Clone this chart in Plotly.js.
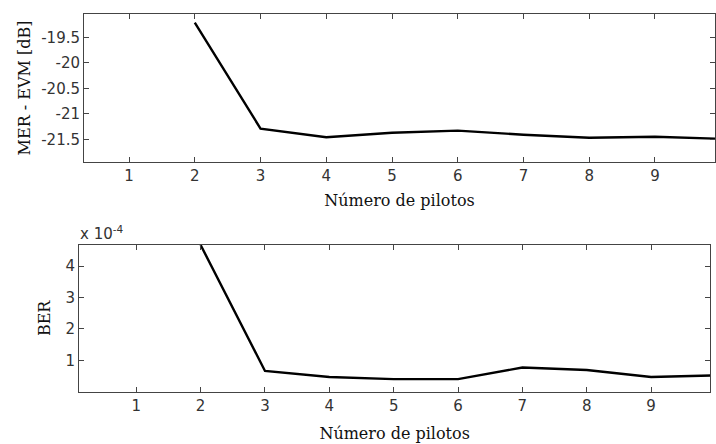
<!DOCTYPE html>
<html>
<head>
<meta charset="utf-8">
<script src="https://cdn.plot.ly/plotly-3.0.1.min.js"></script>
<style>html,body{margin:0;padding:0;background:#fff}#chart{width:716px;height:444px}</style>
</head>
<body>
<div id="chart"></div>
<script>
// Data
const pilotos = [2, 3, 4, 5, 6, 7, 8, 9, 10];
const merEvm = [-19.21, -21.29, -21.46, -21.37, -21.33, -21.41, -21.47, -21.45, -21.49];
const ber = [4.67e-4, 0.66e-4, 0.47e-4, 0.40e-4, 0.40e-4, 0.77e-4, 0.69e-4, 0.47e-4, 0.52e-4];

const xTickVals = [1, 2, 3, 4, 5, 6, 7, 8, 9];
const xTickText = ["1", "2", "3", "4", "5", "6", "7", "8", "9"];
const merTickVals = [-21.5, -21, -20.5, -20, -19.5];
const merTickText = ["-21.5", "-21", "-20.5", "-20", "-19.5"];
const berTickVals = [1e-4, 2e-4, 3e-4, 4e-4];
const berTickText = ["1", "2", "3", "4"];

const xTitle = "Número de pilotos";
const merTitle = "MER - EVM [dB]";
const berTitle = "BER";
const berExponent = "x 10<sup>-4</sup>";

const tickFont = {family: "DejaVu Sans", size: 15, color: "#333"};
const titleFont = {family: "DejaVu Serif", size: 16, color: "#111"};
const axColor = "#444";

function axisBase() {
  return {
    showline: true, linecolor: axColor, linewidth: 1, mirror: "ticks",
    ticks: "inside", ticklen: 5, tickcolor: axColor, tickwidth: 1,
    showgrid: false, zeroline: false, tickfont: tickFont, fixedrange: true
  };
}

const traces = [
  {x: pilotos, y: merEvm, type: "scatter", mode: "lines", xaxis: "x", yaxis: "y",
   line: {color: "#000", width: 2.4}, cliponaxis: true},
  {x: pilotos, y: ber, type: "scatter", mode: "lines", xaxis: "x2", yaxis: "y2",
   line: {color: "#000", width: 2.4}, cliponaxis: true}
];

const layout = {
  width: 716, height: 444,
  margin: {l: 0, r: 0, t: 0, b: 0},
  paper_bgcolor: "#fff", plot_bgcolor: "#fff",
  showlegend: false,
  xaxis: Object.assign(axisBase(), {
    domain: [84/716, 715/716], anchor: "y", range: [0.315, 9.913],
    tickvals: xTickVals, ticktext: xTickText,
    title: {text: xTitle, font: titleFont, standoff: 10}
  }),
  yaxis: Object.assign(axisBase(), {
    domain: [1 - 162/444, 1 - 14/444], anchor: "x", range: [-21.945, -19.04],
    tickvals: merTickVals, ticktext: merTickText,
    title: {text: merTitle, font: titleFont, standoff: 6}
  }),
  xaxis2: Object.assign(axisBase(), {
    domain: [79/716, 710.3/716], anchor: "y2", range: [0.11, 9.92],
    tickvals: xTickVals, ticktext: xTickText,
    title: {text: xTitle, font: titleFont, standoff: 14}
  }),
  yaxis2: Object.assign(axisBase(), {
    domain: [1 - 391.7/444, 1 - 245/444], anchor: "x2", range: [0, 4.67e-4],
    tickvals: berTickVals, ticktext: berTickText,
    title: {text: berTitle, font: titleFont, standoff: 10}
  }),
  annotations: [
    {text: berExponent, xref: "paper", yref: "paper", x: 78/716, y: 1 - 233/444,
     xanchor: "left", yanchor: "middle", showarrow: false,
     font: {family: "DejaVu Sans", size: 15, color: "#333"}}
  ]
};

Plotly.newPlot("chart", traces, layout, {staticPlot: true, displayModeBar: false});
</script>
</body>
</html>
